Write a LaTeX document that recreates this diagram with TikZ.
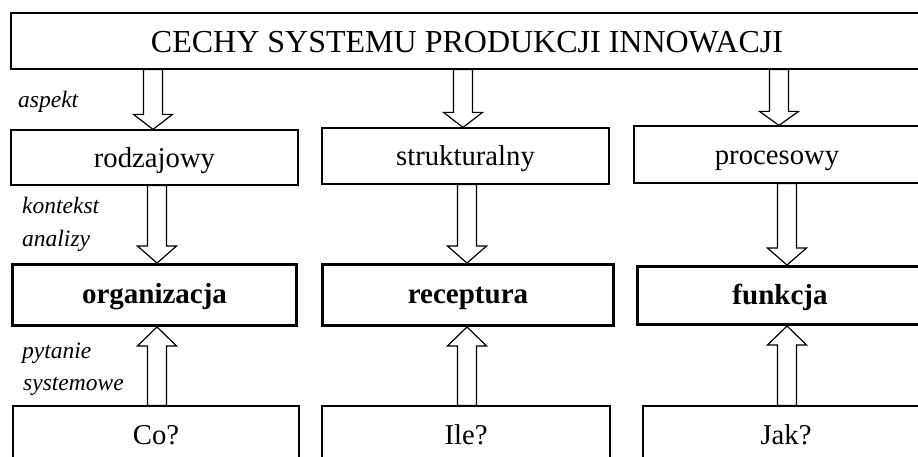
\documentclass[tikz,border=0pt]{standalone}
\usepackage{fontspec}
\setmainfont{Liberation Serif}
\usetikzlibrary{calc}
\tikzset{
  box/.style={draw, line width=1.2pt, inner sep=0pt, font=\fontsize{28.7}{34}\selectfont,
    text height=26.7pt, text depth=6.7pt},
  qbox/.style={box, text height=28.7pt, text depth=4.7pt},
  titlebox/.style={box, font=\fontsize{32}{38}\selectfont, text height=30.4pt, text depth=6.4pt},
  keybox/.style={draw, line width=3.4pt, inner sep=0pt, font=\fontsize{29}{34}\selectfont\bfseries,
    text height=23.2pt, text depth=6.2pt},
  note/.style={anchor=base west, inner sep=0pt, font=\fontsize{23.5}{28}\selectfont\itshape},
  barrow/.style={draw, line width=1.2pt, fill=white, line join=miter},
}
% hollow block arrow: #1 tail point, #2 tip point, #3 head length
\newcommand{\blockarrow}[3]{%
  \path[barrow] let \p1=#1, \p2=#2, \n1={sign(\y2-\y1)*#3} in
    (\x1-9.5pt,\y1) -- (\x1-9.5pt,\y2-\n1*1pt) -- (\x1-19.5pt,\y2-\n1*1pt) --
    (\x1,\y2) -- (\x1+19.5pt,\y2-\n1*1pt) -- (\x1+9.5pt,\y2-\n1*1pt) --
    (\x1+9.5pt,\y1) -- cycle;}
\begin{document}
\begin{tikzpicture}[x=1pt,y=-1pt]
\useasboundingbox (0,0) rectangle (918,457);
\clip (0,0) rectangle (918,457);

% heading
\node[titlebox, minimum width=912pt, minimum height=56pt] (top) at (467,41)
  {CECHY SYSTEMU PRODUKCJI INNOWACJI};

% aspects
\node[box, minimum width=287pt, minimum height=55pt] (rod) at (154.5,157.5) {rodzajowy};
\node[box, minimum width=287pt, minimum height=56pt] (str) at (465.5,156) {strukturalny};
\node[box, minimum width=286pt, minimum height=57pt] (pro) at (777,154.5) {procesowy};

% analysis contexts
\node[keybox, minimum width=283.5pt, minimum height=60.5pt] (org) at (154.5,295) {organizacja};
\node[keybox, minimum width=290.5pt, minimum height=60.5pt] (rec) at (468,295) {receptura};
\node[keybox, minimum width=284.5pt, minimum height=57.5pt] (fun) at (780,295.5) {funkcja};

% system questions
\node[qbox, minimum width=286pt, minimum height=52pt] (co) at (156,432) {Co?};
\node[qbox, minimum width=288pt, minimum height=52pt] (ile) at (466,432) {Ile?};
\node[qbox, minimum width=286pt, minimum height=52pt] (jak) at (786,432) {Jak?};

% side labels
\node[note] (l1) at (18,108) {aspekt};
\node[note] (l2) at (22,214) {kontekst};
\node[note] (l3) at (22,246) {analizy};
\node[note] (l4) at (22,358) {pytanie};
\node[note] (l5) at (23,390) {systemowe};

% arrow axes
\coordinate (a1) at (153,0);
\coordinate (a2) at (463,0);
\coordinate (a3) at (779,0);
\coordinate (b1) at (157,0);
\coordinate (b2) at (467,0);
\coordinate (b3) at (787,0);

% heading -> aspects
\blockarrow{(top.south -| a1)}{(rod.north -| a1)}{15}
\blockarrow{(top.south -| a2)}{(str.north -| a2)}{15}
\blockarrow{(top.south -| a3)}{(pro.north -| a3)}{14}

% aspects -> contexts
\blockarrow{(rod.south -| b1)}{(org.north -| b1)}{17}
\blockarrow{(str.south -| b2)}{(rec.north -| b2)}{17}
\blockarrow{(pro.south -| b3)}{(fun.north -| b3)}{17}

% questions -> contexts
\blockarrow{(co.north -| b1)}{(org.south -| b1)}{19}
\blockarrow{(ile.north -| b2)}{(rec.south -| b2)}{19}
\blockarrow{(jak.north -| b3)}{(fun.south -| b3)}{19}
\end{tikzpicture}
\end{document}
